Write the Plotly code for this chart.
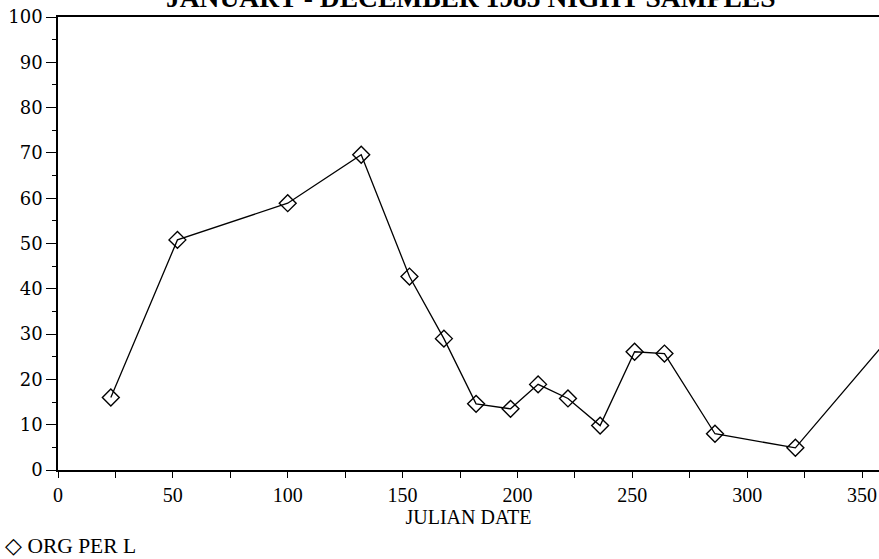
import plotly.graph_objects as go

julian_date = [23, 52, 100, 132, 153, 168, 182, 197, 209, 222, 236, 251, 264, 286, 321, 364]
org_per_l = [16.0, 50.8, 58.9, 69.6, 42.7, 29.0, 14.6, 13.5, 18.9, 15.8, 9.8, 26.1, 25.7, 8.0, 4.9, 30.5]

title_text = "JANUARY - DECEMBER 1985 NIGHT SAMPLES"
x_title = "JULIAN DATE"
series_name = "ORG PER L"

fig = go.Figure()
fig.add_trace(go.Scatter(
    x=julian_date, y=org_per_l, mode="lines+markers", name=series_name,
    line=dict(color="black", width=1.3),
    marker=dict(symbol="diamond-open", size=13, color="black", line=dict(width=1.4, color="black")),
    cliponaxis=True, showlegend=False,
))

fig.update_layout(
    width=879, height=559,
    margin=dict(l=58, r=0, t=17, b=89, autoexpand=False),
    paper_bgcolor="white", plot_bgcolor="white",
    font=dict(family="Liberation Serif", color="black"),
    showlegend=False,
)
fig.update_xaxes(
    range=[0, 357.4], showgrid=False, zeroline=False, automargin=False,
    showline=True, linecolor="black", linewidth=2, mirror=True,
    tickmode="array", tickvals=[0, 50, 100, 150, 200, 250, 300, 350],
    ticks="outside", ticklen=6, tickwidth=1.2, tickcolor="black",
    minor=dict(tickvals=[25, 75, 125, 175, 225, 275, 325], ticks="outside", ticklen=6, tickwidth=1.2, tickcolor="black"),
    tickfont=dict(family="Liberation Serif", size=20),
    title=dict(text=x_title, font=dict(family="Liberation Serif", size=20), standoff=2),
)
fig.update_yaxes(
    range=[0, 100], showgrid=False, zeroline=False, automargin=False,
    showline=True, linecolor="black", linewidth=1.5, mirror=False,
    tickmode="array", tickvals=list(range(0, 101, 10)),
    ticks="outside", ticklen=10, tickwidth=1.2, tickcolor="black",
    minor=dict(tickvals=list(range(5, 100, 10)), ticks="outside", ticklen=4, tickwidth=1.2, tickcolor="black"),
    tickfont=dict(family="DejaVu Serif", size=18),
)

fig.add_annotation(
    text="<b>" + title_text + "</b>", xref="paper", yref="paper", x=0.503, y=1,
    xanchor="center", yanchor="bottom", yshift=2, showarrow=False,
    font=dict(family="Liberation Serif", size=27.5, color="black"),
)
fig.add_annotation(
    text="\u25c7 " + series_name, xref="paper", yref="paper", x=0, y=0,
    xanchor="left", yanchor="middle", xshift=-55, yshift=-76, showarrow=False,
    font=dict(family="Liberation Serif", size=21.5, color="black"),
)

fig.write_html("out.html", config={"displayModeBar": False},
               post_script="document.body.style.margin='0px';")
